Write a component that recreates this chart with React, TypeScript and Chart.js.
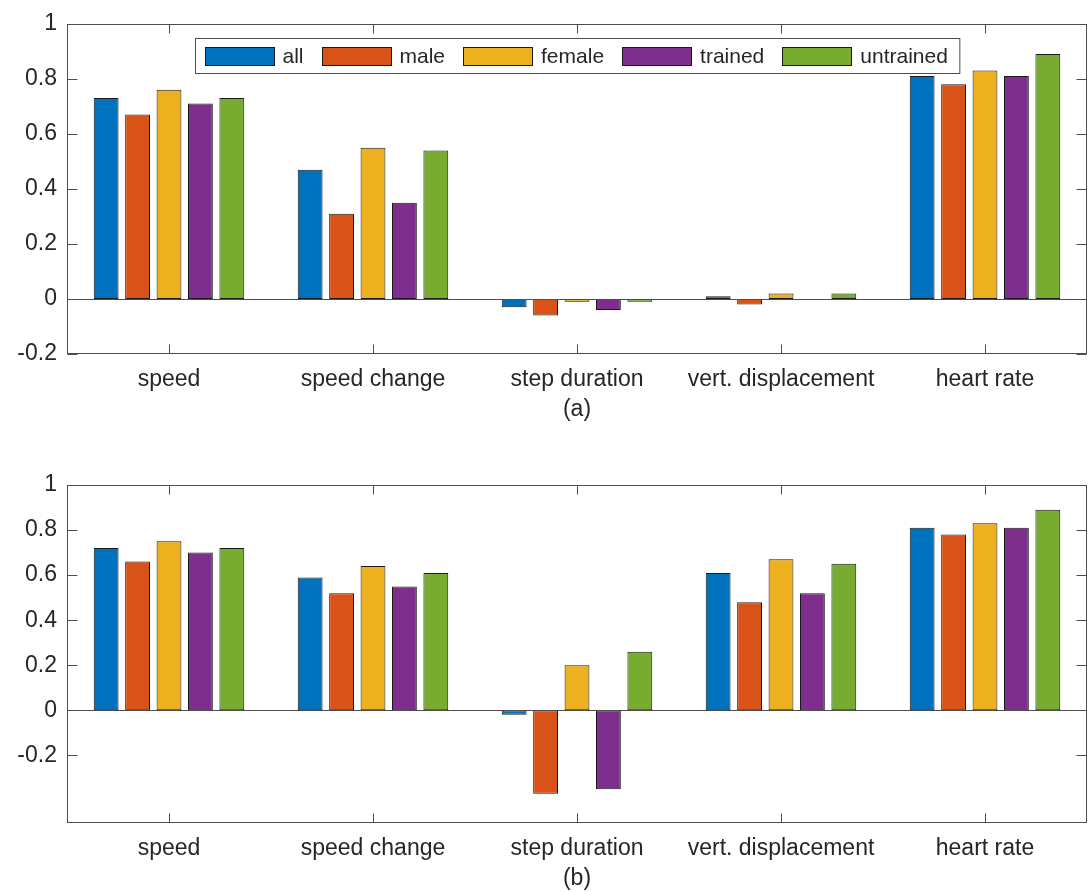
import React, { useEffect, useRef } from "react";
import { Chart, registerables } from "chart.js";
Chart.register(...registerables);

const categories = ["speed", "speed change", "step duration", "vert. displacement", "heart rate"];
const seriesNames = ["all", "male", "female", "trained", "untrained"];
const seriesColors = ["#0072BD", "#D95319", "#EDB120", "#7E2F8E", "#77AC30"];

// Panel (a)
const allA = [0.73, 0.47, -0.03, 0.01, 0.81];
const maleA = [0.67, 0.31, -0.06, -0.02, 0.78];
const femaleA = [0.76, 0.55, -0.01, 0.02, 0.83];
const trainedA = [0.71, 0.35, -0.04, 0, 0.81];
const untrainedA = [0.73, 0.54, -0.01, 0.02, 0.89];

// Panel (b)
const allB = [0.72, 0.59, -0.02, 0.61, 0.81];
const maleB = [0.66, 0.52, -0.37, 0.48, 0.78];
const femaleB = [0.75, 0.64, 0.2, 0.67, 0.83];
const trainedB = [0.7, 0.55, -0.35, 0.52, 0.81];
const untrainedB = [0.72, 0.61, 0.26, 0.65, 0.89];

const yTicksA = [-0.2, 0, 0.2, 0.4, 0.6, 0.8, 1];
const yTicksB = [-0.2, 0, 0.2, 0.4, 0.6, 0.8, 1];
const yRangeA = [-0.2, 1];
const yRangeB = [-0.5, 1];
const panelLabels = ["(a)", "(b)"];

const FONT = '"Liberation Sans", Arial, Helvetica, sans-serif';
const TEXT = "#262626";
const AXIS = "#4d4d4d";

const matlabPlugin = {
  id: "matlabAxes",
  afterDatasetsDraw(chart: any, _args: any, opts: any) {
    const { ctx, chartArea: a, scales } = chart;
    const x = scales.x;
    const y = scales.y;
    ctx.save();
    ctx.strokeStyle = AXIS;
    ctx.lineWidth = 1;
    // baseline
    const y0 = Math.round(y.getPixelForValue(0)) + 0.5;
    ctx.beginPath();
    ctx.moveTo(a.left, y0);
    ctx.lineTo(a.right, y0);
    ctx.stroke();
    // box
    const L = Math.round(a.left) + 0.5;
    const R = Math.round(a.right) - 0.5;
    const T = Math.round(a.top) + 0.5;
    const B = Math.round(a.bottom) - 0.5;
    ctx.strokeRect(L, T, R - L, B - T);
    // y ticks (inward, both sides)
    ctx.beginPath();
    for (const t of y.ticks) {
      const py = Math.round(y.getPixelForValue(t.value)) + 0.5;
      ctx.moveTo(L, py);
      ctx.lineTo(L + 10, py);
      ctx.moveTo(R, py);
      ctx.lineTo(R - 10, py);
    }
    // x ticks (inward, top & bottom)
    for (let i = 0; i < categories.length; i++) {
      const px = Math.round(x.getPixelForValue(i)) + 0.5;
      ctx.moveTo(px, B);
      ctx.lineTo(px, B - 9);
      ctx.moveTo(px, T);
      ctx.lineTo(px, T + 9);
    }
    ctx.stroke();

    // panel label
    ctx.fillStyle = TEXT;
    ctx.font = `23px ${FONT}`;
    ctx.textAlign = "center";
    ctx.textBaseline = "middle";
    ctx.fillText(opts.label, (a.left + a.right) / 2, a.bottom + 56);

    // legend
    if (opts.legend) {
      ctx.font = `21px ${FONT}`;
      const ds = chart.data.datasets;
      const sw = 70, sh = 19, g1 = 8, g2 = 18, padL = 9, padR = 12, bh = 35;
      const widths = ds.map((d: any) => ctx.measureText(d.label).width);
      let total = padL + padR + g2 * (ds.length - 1);
      widths.forEach((w: number) => (total += sw + g1 + w));
      const bx = Math.round((a.left + a.right) / 2 - total / 2) + 0.5;
      const by = Math.round(a.top + 14) + 0.5;
      ctx.fillStyle = "#ffffff";
      ctx.fillRect(bx, by, total, bh);
      ctx.strokeStyle = AXIS;
      ctx.strokeRect(bx, by, total, bh);
      let cx = bx + padL;
      ds.forEach((d: any, i: number) => {
        const sy = Math.round(by + (bh - sh) / 2);
        ctx.fillStyle = d.backgroundColor;
        ctx.fillRect(Math.round(cx), sy, sw, sh);
        ctx.strokeStyle = "#1a1a1a";
        ctx.strokeRect(Math.round(cx) + 0.5, sy + 0.5, sw - 1, sh - 1);
        ctx.fillStyle = TEXT;
        ctx.textAlign = "left";
        ctx.textBaseline = "middle";
        ctx.fillText(d.label, cx + sw + g1, by + bh / 2 + 1);
        cx += sw + g1 + widths[i] + g2;
      });
    }
    ctx.restore();
  },
};

type PanelProps = {
  series: number[][];
  yTicks: number[];
  yRange: number[];
  label: string;
  legend: boolean;
  padTop: number;
  height: number;
  xHeight: number;
};

function Panel({ series, yTicks, yRange, label, legend, padTop, height, xHeight }: PanelProps) {
  const ref = useRef<HTMLCanvasElement>(null);
  useEffect(() => {
    const chart = new Chart(ref.current as HTMLCanvasElement, {
      type: "bar",
      data: {
        labels: categories,
        datasets: series.map((d, i) => ({
          label: seriesNames[i],
          data: d,
          backgroundColor: seriesColors[i],
          borderColor: "#1a1a1a",
          borderWidth: 1,
          borderSkipped: false,
          categoryPercentage: 0.77,
          barPercentage: 0.79,
        })),
      },
      options: {
        responsive: false,
        animation: false,
        layout: { padding: { left: 0, right: 4, top: padTop, bottom: 0 } },
        plugins: {
          legend: { display: false },
          tooltip: { enabled: false },
          matlabAxes: { label, legend },
        } as any,
        scales: {
          x: {
            grid: { display: false, drawTicks: false },
            border: { display: false },
            ticks: {
              font: { family: FONT, size: 23 },
              color: TEXT,
              padding: 12,
              maxRotation: 0,
              autoSkip: false,
            },
            afterFit: (s: any) => {
              s.height = xHeight;
            },
          },
          y: {
            min: yRange[0],
            max: yRange[1],
            grid: { display: false, drawTicks: false },
            border: { display: false },
            afterBuildTicks: (s: any) => {
              s.ticks = yTicks.map((v) => ({ value: v }));
            },
            ticks: {
              font: { family: FONT, size: 23 },
              color: TEXT,
              padding: 10,
              callback: (v: any) => String(Number(Number(v).toFixed(2))),
            },
            afterFit: (s: any) => {
              s.width = 67;
            },
          },
        },
      } as any,
      plugins: [matlabPlugin as any],
    });
    return () => chart.destroy();
  }, []);
  return <canvas ref={ref} width={1091} height={height} style={{ display: "block" }} />;
}

export default function App() {
  useEffect(() => {
    document.body.style.margin = "0";
  }, []);
  return (
    <div style={{ width: 1091, background: "#fff" }}>
      <Panel
        series={[allA, maleA, femaleA, trainedA, untrainedA]}
        yTicks={yTicksA}
        yRange={yRangeA}
        label={panelLabels[0]}
        legend={true}
        padTop={17}
        height={446}
        xHeight={92}
      />
      <Panel
        series={[allB, maleB, femaleB, trainedB, untrainedB]}
        yTicks={yTicksB}
        yRange={yRangeB}
        label={panelLabels[1]}
        legend={false}
        padTop={39}
        height={446}
        xHeight={69}
      />
    </div>
  );
}
